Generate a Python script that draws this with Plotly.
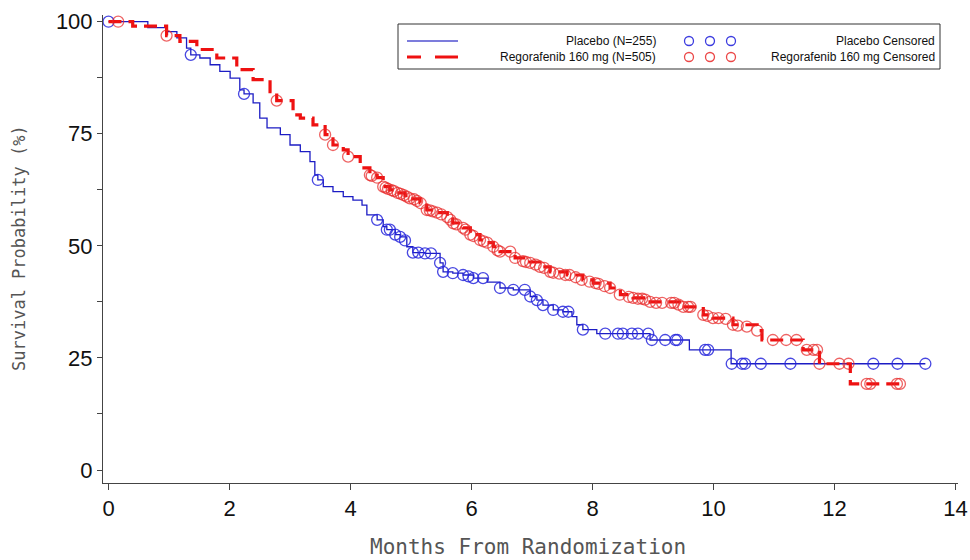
import plotly.graph_objects as go

# ---- data ----
placebo_time = [0, 0.65, 0.96, 1.13, 1.29, 1.36, 1.51, 1.68, 1.84, 2.01, 2.17, 2.24, 2.39, 2.50,
                2.62, 2.84, 3.00, 3.17, 3.33, 3.41, 3.46, 3.55, 3.71, 3.88, 4.04, 4.19, 4.27, 4.44,
                4.54, 4.60, 4.74, 4.82, 4.93, 5.03, 5.23, 5.48, 5.53, 5.69, 5.86, 6.03, 6.26, 6.47,
                6.69, 6.97, 7.08, 7.18, 7.35, 7.51, 7.66, 7.74, 7.84, 8.07, 8.95, 9.60, 10.29, 13.50]
placebo_surv = [100, 98.7, 97.8, 96.4, 94.1, 92.6, 91.9, 90.4, 88.9, 87.4, 84.8, 83.9, 81.9, 78.5,
                76.3, 74.8, 72.5, 71.0, 68.8, 65.8, 64.7, 63.2, 62.1, 61.0, 60.2, 59.1, 56.9, 55.8,
                54.3, 53.6, 52.5, 52.0, 49.8, 48.5, 48.3, 46.2, 44.2, 43.9, 43.5, 42.8, 41.9, 40.6,
                40.2, 38.7, 37.9, 36.8, 35.7, 35.3, 34.2, 32.4, 31.3, 30.4, 29.0, 26.8, 23.7, 23.7]

placebo_cens_time = [0.0, 1.36, 2.24, 3.46, 4.44, 4.60, 4.65, 4.74, 4.82, 4.90, 5.03, 5.12, 5.23,
                     5.33, 5.48, 5.53, 5.69, 5.86, 5.95, 6.03, 6.19, 6.47, 6.69, 6.88, 6.97, 7.08,
                     7.18, 7.35, 7.51, 7.60, 7.84, 8.21, 8.42, 8.50, 8.65, 8.75, 8.92, 8.98, 9.20,
                     9.37, 9.40, 9.86, 9.91, 10.30, 10.47, 10.52, 10.78, 11.27, 12.64, 13.04, 13.50]
placebo_cens_surv = [100, 92.6, 83.9, 64.7, 55.8, 53.6, 53.6, 52.5, 52.0, 51.2, 48.5, 48.5, 48.3,
                     48.3, 46.2, 44.2, 43.9, 43.5, 43.2, 42.8, 42.8, 40.6, 40.2, 40.2, 38.7, 37.9,
                     36.8, 35.7, 35.3, 35.3, 31.3, 30.4, 30.4, 30.4, 30.4, 30.4, 30.4, 29.0, 29.0,
                     29.0, 29.0, 26.8, 26.8, 23.7, 23.7, 23.7, 23.7, 23.7, 23.7, 23.7, 23.7]

rego_time = [0, 0.40, 0.96, 1.18, 1.46, 1.79, 2.12, 2.39, 2.67, 2.78, 3.05, 3.17, 3.38, 3.58,
             3.71, 3.88, 3.96, 4.16, 4.32, 4.44, 4.54, 4.65, 4.77, 4.90, 5.03, 5.15, 5.26, 5.43,
             5.60, 5.69, 5.86, 5.98, 6.14, 6.26, 6.36, 6.47, 6.72, 6.92, 7.13, 7.30, 7.58, 7.84,
             8.01, 8.29, 8.46, 8.67, 8.95, 9.50, 9.83, 9.99, 10.32, 10.72, 10.80, 11.48, 11.75,
             12.26, 13.13]
rego_surv = [100, 99.0, 96.9, 95.6, 93.8, 91.9, 89.3, 87.1, 84.4, 82.4, 79.2, 78.5, 77.0, 74.8,
             72.5, 71.4, 69.9, 67.4, 65.8, 65.2, 63.2, 62.5, 61.8, 61.2, 60.5, 59.6, 58.0, 57.4,
             56.5, 55.1, 54.0, 52.5, 51.3, 50.7, 49.8, 48.7, 47.3, 46.4, 45.3, 44.2, 43.5, 42.4,
             41.7, 40.6, 39.1, 38.4, 37.5, 36.4, 34.6, 33.9, 32.4, 31.1, 29.0, 26.8, 23.7,
             19.2, 19.2]

rego_cens_time = [0.16, 0.96, 2.78, 3.58, 3.71, 3.96, 4.32, 4.35, 4.44, 4.54, 4.58, 4.62, 4.68,
                  4.72, 4.78, 4.83, 4.88, 4.93, 4.98, 5.05, 5.10, 5.16, 5.26, 5.31, 5.36, 5.43,
                  5.50, 5.60, 5.65, 5.70, 5.75, 5.86, 5.90, 5.98, 6.03, 6.14, 6.20, 6.26, 6.36,
                  6.43, 6.47, 6.64, 6.72, 6.85, 6.90, 6.97, 7.06, 7.13, 7.20, 7.30, 7.35, 7.45,
                  7.55, 7.62, 7.72, 7.82, 7.95, 8.05, 8.10, 8.20, 8.29, 8.45, 8.60, 8.67, 8.75,
                  8.82, 8.87, 8.95, 9.05, 9.15, 9.30, 9.35, 9.42, 9.50, 9.58, 9.62, 9.83, 9.90,
                  9.99, 10.08, 10.20, 10.32, 10.40, 10.55, 10.72, 10.98, 11.20, 11.37, 11.54,
                  11.65, 11.71, 11.75, 12.08, 12.23, 12.53, 12.59, 13.03, 13.08]
rego_cens_surv = [100, 96.9, 82.4, 74.8, 72.5, 69.9, 65.8, 65.6, 65.2, 63.2, 63.0, 62.7, 62.4,
                  62.2, 61.8, 61.6, 61.3, 61.0, 60.6, 60.4, 60.0, 59.5, 58.0, 57.9, 57.7, 57.4,
                  57.0, 56.4, 55.8, 55.0, 54.8, 54.0, 53.6, 52.5, 52.2, 51.3, 51.0, 50.7, 49.8,
                  49.0, 48.7, 48.7, 47.3, 46.6, 46.4, 46.2, 45.8, 45.3, 45.1, 44.2, 44.0, 43.8,
                  43.5, 43.5, 43.0, 42.4, 42.0, 41.7, 41.5, 41.0, 40.6, 39.1, 38.6, 38.4, 38.2,
                  38.2, 38.0, 37.5, 37.3, 37.3, 37.3, 37.3, 36.9, 36.4, 36.4, 36.4, 34.6, 34.4,
                  33.9, 33.9, 33.7, 32.4, 32.2, 32.0, 31.1, 29.0, 29.0, 29.0, 26.8,
                  26.8, 26.8, 23.7, 23.7, 23.7, 19.2, 19.2, 19.2, 19.2]

x_ticks = [0, 2, 4, 6, 8, 10, 12, 14]
y_ticks = [0, 25, 50, 75, 100]

legend_line_labels = ["Placebo (N=255)", "Regorafenib 160 mg (N=505)"]
legend_cens_labels = ["Placebo Censored", "Regorafenib 160 mg Censored"]

BLUE_LINE = "#1c1cc4"
BLUE_MARK = "rgba(40,40,220,0.85)"
RED_LINE = "#ee1111"
RED_MARK = "rgba(232,40,40,0.72)"
RED_DASH = "13px,7px"

fig = go.Figure()
fig.add_trace(go.Scatter(x=placebo_time, y=placebo_surv, mode="lines", line_shape="hv",
                         line=dict(color=BLUE_LINE, width=1.3), showlegend=False))
fig.add_trace(go.Scatter(x=placebo_cens_time, y=placebo_cens_surv, mode="markers",
                         marker=dict(symbol="circle-open", size=11, color=BLUE_MARK,
                                     line=dict(width=1.3)), showlegend=False))
fig.add_trace(go.Scatter(x=rego_time, y=rego_surv, mode="lines", line_shape="hv",
                         line=dict(color=RED_LINE, width=3.2, dash=RED_DASH), showlegend=False))
fig.add_trace(go.Scatter(x=rego_cens_time, y=rego_cens_surv, mode="markers",
                         marker=dict(symbol="circle-open", size=11, color=RED_MARK,
                                     line=dict(width=1.3)), showlegend=False))

# plot-area geometry in screenshot pixels (page body margin is removed below)
L, R, T, B = 103, 958, 15, 483
W, H = R - L, B - T


def px(xp):
    return (xp - L) / W


def py(yp):
    return (B - yp) / H


shapes = []
annotations = []
# legend box
shapes.append(dict(type="rect", xref="paper", yref="paper", x0=px(398), x1=px(940),
                   y0=py(69), y1=py(24), line=dict(color="#333", width=1), fillcolor="white"))
rows = [41, 57]
# line samples
shapes.append(dict(type="line", xref="paper", yref="paper", x0=px(407), x1=px(458),
                   y0=py(rows[0]), y1=py(rows[0]), line=dict(color="#5050d0", width=1.3)))
shapes.append(dict(type="line", xref="paper", yref="paper", x0=px(407), x1=px(421),
                   y0=py(rows[1]), y1=py(rows[1]), line=dict(color=RED_LINE, width=3)))
shapes.append(dict(type="line", xref="paper", yref="paper", x0=px(435), x1=px(458),
                   y0=py(rows[1]), y1=py(rows[1]), line=dict(color=RED_LINE, width=3)))
for ri, col in zip(rows, ["rgba(40,40,220,0.9)", "rgba(232,40,40,0.85)"]):
    for cx in [689, 710, 731]:
        shapes.append(dict(type="circle", xref="paper", yref="paper",
                           xsizemode="pixel", ysizemode="pixel",
                           xanchor=px(cx), yanchor=py(ri), x0=-4.5, x1=4.5, y0=-4.5, y1=4.5,
                           line=dict(color=col, width=1.3)))
for ri, lab in zip(rows, legend_line_labels):
    annotations.append(dict(xref="paper", yref="paper", x=px(658), y=py(ri), text=lab,
                            showarrow=False, xanchor="right", yanchor="middle",
                            font=dict(family="Liberation Sans", size=12, color="#111")))
for ri, lab in zip(rows, legend_cens_labels):
    annotations.append(dict(xref="paper", yref="paper", x=px(937), y=py(ri), text=lab,
                            showarrow=False, xanchor="right", yanchor="middle",
                            font=dict(family="Liberation Sans", size=12, color="#111")))

# axis titles
annotations.append(dict(xref="paper", yref="paper", x=px(19), y=py(248),
                        text="Survival Probability (%)", textangle=-90, showarrow=False,
                        xanchor="center", yanchor="middle",
                        font=dict(family="DejaVu Sans Mono", size=17, color="#555")))
annotations.append(dict(xref="paper", yref="paper", x=px(528), y=py(547),
                        text="Months From Randomization", showarrow=False,
                        xanchor="center", yanchor="middle",
                        font=dict(family="DejaVu Sans Mono", size=21, color="#555")))

# x range: 0 -> pixel 108.5, 14 -> pixel 955.6
ppm = (955.6 - 108.5) / 14
x0 = 0 - (108.5 - L) / ppm
x1 = 14 + (R - 955.6) / ppm
# y range: 100 -> 21.7, 0 -> 470
ppp = (470 - 21.7) / 100
y0 = 0 - (B - 470) / ppp
y1 = 100 + (21.7 - T) / ppp

fig.update_layout(
    width=970, height=560,
    margin=dict(l=L, r=970 - R, t=T, b=560 - B, autoexpand=False),
    paper_bgcolor="white", plot_bgcolor="white",
    showlegend=False,
    shapes=shapes, annotations=annotations,
    xaxis=dict(range=[x0, x1], tickvals=x_ticks, ticktext=[str(v) for v in x_ticks],
               automargin=False,
               showgrid=False, zeroline=False, showline=True, linecolor="#444", linewidth=1,
               ticks="outside", ticklen=6, tickcolor="#444",
               tickfont=dict(family="Liberation Sans", size=22, color="#111")),
    yaxis=dict(range=[y0, y1], tickvals=y_ticks, ticktext=[str(v) for v in y_ticks],
               automargin=False,
               showgrid=False, zeroline=False, showline=True, linecolor="#444", linewidth=1,
               ticks="outside", ticklen=5, tickcolor="#444",
               minor=dict(tickvals=[12.5, 37.5, 62.5, 87.5], ticks="outside", ticklen=5,
                          tickcolor="#444"),
               tickfont=dict(family="Liberation Sans", size=22, color="#111")),
)

fig.write_html(
    "out.html",
    config={"displayModeBar": False},
    post_script="document.body.style.margin='0';document.body.style.overflow='hidden';",
)
